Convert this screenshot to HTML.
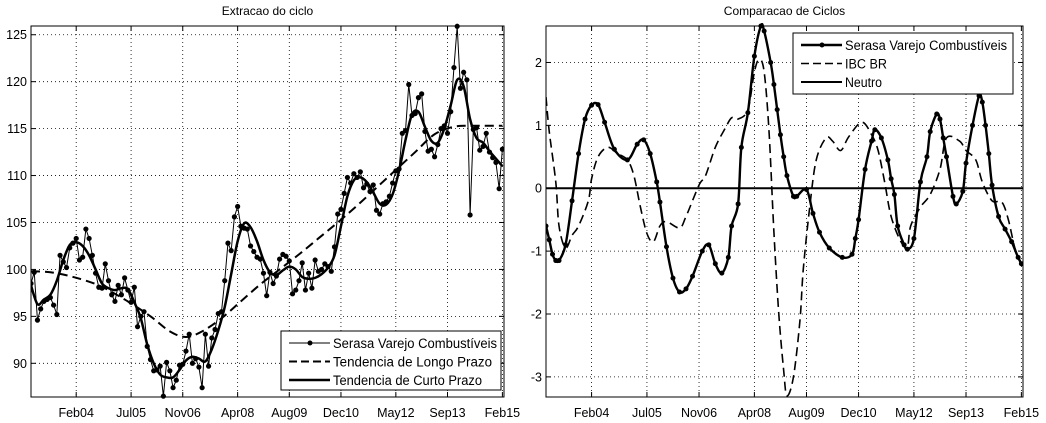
<!DOCTYPE html>
<html><head><meta charset="utf-8"><style>
body{margin:0;background:#fff;}
svg{display:block;font-family:"Liberation Sans",sans-serif;}
</style></head><body>
<svg id="c" width="1046" height="423" xmlns="http://www.w3.org/2000/svg"></svg>
<script>
// ---------- DATA ----------
const tickMonths=[13,30,46,63,79,95,112,128,145];
const tickLabels=["Feb04","Jul05","Nov06","Apr08","Aug09","Dec10","May12","Sep13","Feb15"];
const leftYTicks=[90,95,100,105,110,115,120,125];
const rightYTicks=[-3,-2,-1,0,1,2];
// Left: monthly series from t=-1 (Dec02)
const serasaLevel=[98.5,99.7,94.6,95.8,96.6,96.8,97.0,96.2,95.2,101.5,100.8,100.2,102.3,102.8,103.3,
101.0,101.3,104.3,103.3,101.5,99.6,98.1,98.0,100.6,98.8,97.3,96.6,98.3,97.3,99.1,97.8,96.5,
98.1,93.9,95.0,95.5,91.8,90.4,89.2,89.3,89.7,86.5,90.1,89.2,87.4,88.2,89.8,89.9,
91.3,93.1,90.0,90.5,89.6,87.4,93.1,89.7,92.7,93.6,95.3,95.5,98.8,102.8,102.0,105.6,106.7,
104.6,104.4,104.3,102.5,101.9,101.3,101.1,99.6,97.2,99.7,98.5,99.3,101.1,101.6,101.4,100.9,
97.4,97.8,98.8,100.7,97.8,99.6,98.0,101.0,99.8,100.0,100.6,100.3,99.8,102.4,105.9,106.4,
108.1,109.8,109.2,110.2,109.8,110.4,108.7,109.1,108.3,109.0,106.3,105.9,107.0,107.2,107.8,109.2,110.5,
110.7,114.5,114.8,119.7,116.4,116.6,118.3,118.7,114.7,112.6,112.8,112.0,113.3,115.0,115.3,114.5,
116.8,121.5,125.9,119.3,121.0,120.2,105.8,114.9,115.1,112.7,113.1,114.5,112.5,111.9,111.4,108.6,112.8];
const longMonths=[-1,5,12,20,28,36,42,47,52,58,64,70,76,82,88,94,100,106,112,118,124,130,136,145];
const longValues=[99.8,99.7,99.2,98.3,96.8,95.0,93.4,92.8,93.4,94.8,96.6,98.4,100.0,101.6,103.3,105.0,106.8,108.7,110.6,112.5,114.4,115.2,115.3,115.3];
const shortMonths=[-1,1,3,5,7,9,11,13,15,17,19,21,23,25,27,29,31,33,35,37,39,41,43,45,47,49,51,53,55,57,59,61,63,65,67,69,71,73,75,77,79,81,83,85,87,89,91,93,95,97,99,101,103,105,107,109,111,113,115,117,119,121,123,125,127,129,131,133,135,137,139,141,143,145];
const shortValues=[98.3,96.3,96.8,97.3,98.8,101,102.6,102.9,102.5,101.5,100,98.5,98,97.8,98,97.9,96.5,94.8,92,90,88.8,88.5,88.5,89.3,90.3,90.7,90.5,90.2,91.5,93.5,96,99.5,103,104.9,104.5,103,101,99.7,99.4,99.9,100.3,100,99.2,99,99.1,99.5,100.2,101.5,104.6,107.8,109.5,109.8,109.3,108.2,107.0,106.9,108,110.5,113.8,116.5,116.8,115.2,113.7,113.5,115.0,117.5,120.2,119.5,116,114,113.5,112.6,111.8,111.0];
// Right
const cycMonths=[-1,0,1,2,3,5,7,9,11,13,15,17,20,24,27,29,31,33,34,36,38,40,42,44,47,49,51,53,55,56,58,59,61,63,65,66,68,69,70,71,72,73,75,76,79,81,83,86,90,93,94,95,97,99,100,102,104,105,106,107,109,110,112,114,116,117,119,120,121,122,124,125,127,128,130,132,133,134,135,136,138,140,142,144,145];
const cycValues=[-0.6,-0.82,-1.05,-1.15,-1.15,-0.9,-0.2,0.55,1.1,1.32,1.33,1.05,0.62,0.45,0.7,0.77,0.55,0.1,-0.22,-0.93,-1.43,-1.65,-1.6,-1.4,-1.0,-0.9,-1.2,-1.35,-1.1,-0.6,-0.25,0.65,1.2,2.1,2.58,2.5,2.0,1.65,1.25,0.85,0.5,0.2,-0.13,-0.13,-0.02,-0.4,-0.7,-0.95,-1.1,-1.05,-0.8,-0.5,0.3,0.75,0.93,0.8,0.45,0.15,-0.1,-0.6,-0.9,-0.97,-0.8,0.1,0.5,0.9,1.18,1.1,0.8,0.5,-0.13,-0.25,-0.05,0.4,1.0,1.47,1.37,1.0,0.55,0.05,-0.45,-0.65,-0.85,-1.1,-1.2];
const ibcMonths=[-1,0,2,3,5,7,9,12,13,15,18,21,24,26,28,30,32,34,36,40,42,46,48,51,54,56,58,61,63,64.5,66,67.5,69,70.5,72,73,75,77,78,80,82,85,87,89.5,92,96,99,101,103,105,108,110,111,114,117,120,122,126,128,131,133,136,139,141,143,145];
const ibcValues=[1.45,0.9,0.1,-0.6,-0.95,-0.75,-0.6,-0.2,0.15,0.5,0.65,0.55,0.45,0.2,-0.3,-0.72,-0.85,-0.6,-0.53,-0.63,-0.45,0.05,0.2,0.65,0.95,1.12,1.1,1.25,1.85,2.05,1.85,0.9,-0.7,-2.0,-2.9,-3.3,-3.0,-2.1,-1.3,-0.3,0.45,0.8,0.75,0.6,0.82,1.05,0.85,0.6,0.1,-0.45,-0.85,-0.93,-0.6,-0.3,-0.1,0.3,0.8,0.75,0.6,0.45,0.1,-0.2,-0.22,-0.5,-0.95,-1.2];
const neutroValue=0;

// ---------- DRAW ----------
const svg=document.getElementById('c');
const NS='http://www.w3.org/2000/svg';
function el(tag,attrs,parent){const e=document.createElementNS(NS,tag);for(const k in attrs)e.setAttribute(k,attrs[k]);(parent||svg).appendChild(e);return e;}
function smooth(pts){let d='M'+pts[0][0]+','+pts[0][1];for(let i=0;i<pts.length-1;i++){const p0=pts[Math.max(0,i-1)],p1=pts[i],p2=pts[i+1],p3=pts[Math.min(pts.length-1,i+2)];
d+=' C'+(p1[0]+(p2[0]-p0[0])/6)+','+(p1[1]+(p2[1]-p0[1])/6)+' '+(p2[0]-(p3[0]-p1[0])/6)+','+(p2[1]-(p3[1]-p1[1])/6)+' '+p2[0]+','+p2[1];}return d;}
const XMIN=-1,XMAX=145.5;
function panel(name,box,ymin,ymax,yt,title){
  const g=el('g',{});
  const sx=t=>box.x0+(t-XMIN)/(XMAX-XMIN)*(box.x1-box.x0);
  const sy=v=>box.y1-(v-ymin)/(ymax-ymin)*(box.y1-box.y0);
  const ti=el('text',{x:(box.x0+box.x1)/2,y:15,'text-anchor':'middle','font-size':12},g);ti.textContent=title;
  
  tickMonths.forEach((m,i)=>{const x=sx(m);
    el('line',{x1:x,x2:x,y1:box.y0,y2:box.y1,stroke:'#000','stroke-width':0.8,'stroke-dasharray':'1,3'},g);
    el('line',{x1:x,x2:x,y1:box.y1,y2:box.y1-5,stroke:'#000'},g);el('line',{x1:x,x2:x,y1:box.y0,y2:box.y0+5,stroke:'#000'},g);
    const t=el('text',{x:x,y:box.y1+20,'text-anchor':'middle','font-size':12.5},g);t.textContent=tickLabels[i];
    });
  yt.forEach(v=>{const y=sy(v);
    el('line',{x1:box.x0,x2:box.x1,y1:y,y2:y,stroke:'#000','stroke-width':0.8,'stroke-dasharray':'1,3'},g);
    el('line',{x1:box.x0,x2:box.x0+5,y1:y,y2:y,stroke:'#000'},g);el('line',{x1:box.x1,x2:box.x1-5,y1:y,y2:y,stroke:'#000'},g);
    const t=el('text',{x:box.x0-4,y:y+4.5,'text-anchor':'end','font-size':12.5},g);t.textContent=v;
    });
  const cp=el('clipPath',{id:'cp'+name},g);el('rect',{x:box.x0,y:box.y0-3,width:box.x1-box.x0,height:box.y1-box.y0+6},cp);
  const plot=el('g',{'clip-path':'url(#cp'+name+')'},g);
  el('rect',{x:box.x0,y:box.y0,width:box.x1-box.x0,height:box.y1-box.y0,fill:'none',stroke:'#000'},g);
  return {sx,sy,plot,g};
}
// Left
const L=panel('left-panel',{x0:31,x1:504,y0:26,y1:397},86.41,125.93,leftYTicks,'Extracao do ciclo');
const lp=serasaLevel.map((v,i)=>[L.sx(i-1),L.sy(v)]);
const s1=el('polyline',{points:lp.map(p=>p.join(',')).join(' '),fill:'none',stroke:'#000','stroke-width':1},L.plot);

lp.forEach(p=>{const c=el('circle',{cx:p[0],cy:p[1],r:2.6,fill:'#000'},L.plot);});
const lt=el('path',{d:smooth(longMonths.map((m,i)=>[L.sx(m),L.sy(longValues[i])])),fill:'none',stroke:'#000','stroke-width':2,'stroke-dasharray':'9,5'},L.plot);

const st=el('path',{d:smooth(shortMonths.map((m,i)=>[L.sx(m),L.sy(shortValues[i])])),fill:'none',stroke:'#000','stroke-width':2.5},L.plot);

// Right
const R=panel('right-panel',{x0:546,x1:1023,y0:26,y1:397},-3.32,2.58,rightYTicks,'Comparacao de Ciclos');
const nl=el('line',{x1:546,x2:1023,y1:R.sy(neutroValue),y2:R.sy(neutroValue),stroke:'#000','stroke-width':2},R.plot);

const ib=el('path',{d:smooth(ibcMonths.map((m,i)=>[R.sx(m),R.sy(ibcValues[i])])),fill:'none',stroke:'#000','stroke-width':1.6,'stroke-dasharray':'9,5'},R.plot);

const cpts=cycMonths.map((m,i)=>[R.sx(m),R.sy(cycValues[i])]);
const cy=el('path',{d:smooth(cpts),fill:'none',stroke:'#000','stroke-width':2.4},R.plot);

cpts.forEach(p=>{const c=el('circle',{cx:p[0],cy:p[1],r:2.5,fill:'#000'},R.plot);});
// Legends
function legend(name,x,y,w,h,items,fs){
  const g=el('g',{});
  el('rect',{x:x,y:y,width:w,height:h,fill:'#fff',stroke:'#000'},g);
  items.forEach((it,i)=>{const yy=y+12+i*18.5;
    const ln=el('line',{x1:x+8,x2:x+49,y1:yy,y2:yy,stroke:'#000','stroke-width':it.w},g);
    if(it.dash)ln.setAttribute('stroke-dasharray','8,4');
    if(it.dot)el('circle',{cx:x+29,cy:yy,r:2.5,fill:'#000'},g);
    const t=el('text',{x:x+52,y:yy+5,'font-size':fs,textLength:it.len,lengthAdjust:'spacingAndGlyphs'},g);t.textContent=it.label;
    });
}
legend('left-legend',281,331,220,59,[{label:'Serasa Varejo Combustíveis',w:1,dot:true,len:164},{label:'Tendencia de Longo Prazo',w:2,dash:true,len:159},{label:'Tendencia de Curto Prazo',w:2.5,len:149}],13.5);
legend('right-legend',793,33,220,61,[{label:'Serasa Varejo Combustíveis',w:2.4,dot:true,len:162},{label:'IBC BR',w:1.6,dash:true,len:42},{label:'Neutro',w:2,len:37}],13.5);
</script>
</body></html>
